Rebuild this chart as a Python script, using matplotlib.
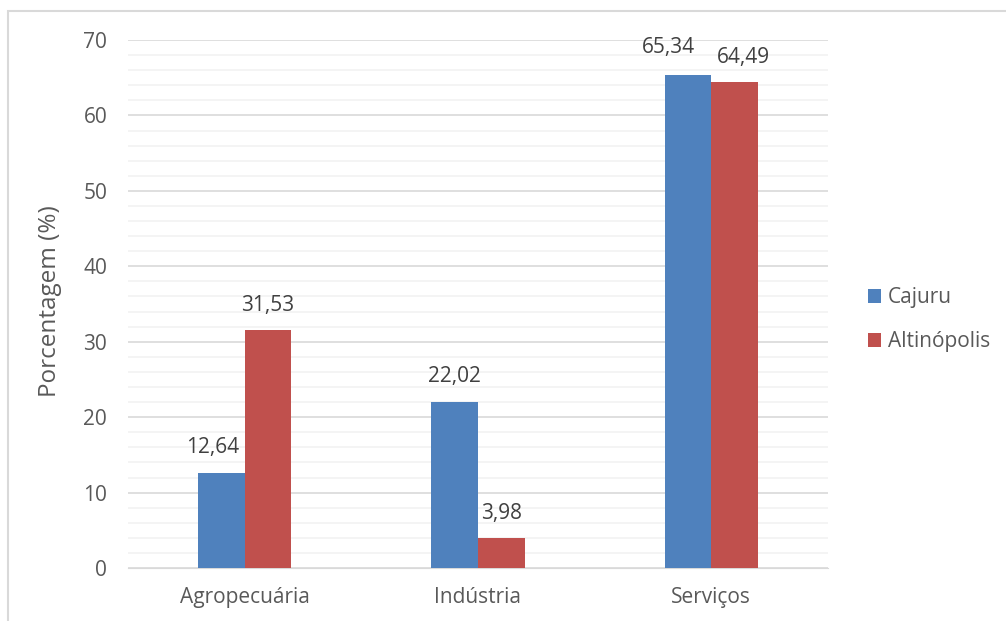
import numpy as np
import matplotlib.pyplot as plt
from matplotlib.patches import Rectangle

plt.rcParams['font.family'] = ['Open Sans', 'DejaVu Sans']

setores = ['Agropecuária', 'Indústria', 'Serviços']
cajuru = [12.64, 22.02, 65.34]
altinopolis = [31.53, 3.98, 64.49]

azul = '#4f81bd'
vermelho = '#c0504d'
texto = '#595959'

fig = plt.figure(figsize=(10.06, 6.21), dpi=100)
ax = fig.add_axes([0.1272, 0.0853, 0.6958, 0.8503])

# moldura do gráfico
fig.patches.append(Rectangle((8 / 1006, -0.1), 1.1, 1 - 11 / 621 + 0.1,
                             transform=fig.transFigure, fill=False,
                             edgecolor='#d9d9d9', linewidth=1.5))

x = np.arange(len(setores))
w = 0.2
b1 = ax.bar(x - w / 2, cajuru, w, color=azul, label='Cajuru', zorder=3)
b2 = ax.bar(x + w / 2, altinopolis, w, color=vermelho, label='Altinópolis', zorder=3)

# deslocamento horizontal (pt) dos rótulos para não se sobreporem
desloc = [(-6, 0), (0, 0), (-14, 6)]

for k, (barras, vals) in enumerate(((b1, cajuru), (b2, altinopolis))):
    for i, (r, v) in enumerate(zip(barras, vals)):
        dy = 20 if k == 0 and i == 2 else 18
        if k == 1 and i == 2:
            dy = 17
        ax.annotate(f'{v:.2f}'.replace('.', ','),
                    (r.get_x() + r.get_width() / 2, v),
                    xytext=(desloc[i][k], dy), textcoords='offset points',
                    ha='center', va='center', fontsize=15, color='#404040')

ax.set_xlim(-0.5, 2.5)
ax.set_ylim(0, 70)
ax.set_yticks(range(0, 71, 10))
ax.set_yticks(range(0, 71, 2), minor=True)
ax.grid(axis='y', which='major', color='#d9d9d9', linewidth=1.2, zorder=0)
ax.grid(axis='y', which='minor', color='#f2f2f2', linewidth=1.2, zorder=0)
ax.set_xticks(x)
ax.set_xticklabels(setores)
ax.tick_params(axis='both', which='both', length=0, labelsize=15, colors=texto)
ax.tick_params(axis='y', pad=15)
ax.tick_params(axis='x', pad=14)
for s in ('top', 'right', 'left'):
    ax.spines[s].set_visible(False)
ax.spines['bottom'].set_color('#d9d9d9')
ax.set_ylabel('Porcentagem (%)', fontsize=17.5, color=texto)
ax.yaxis.set_label_coords(-0.094, 0.506)

ax.legend(loc='center left', bbox_to_anchor=(1.045, 0.47), frameon=False,
          fontsize=15, labelcolor=texto, handlelength=0.65, handleheight=0.65,
          handletextpad=0.3, labelspacing=1.1, borderaxespad=0)

fig.savefig('out.png', dpi=100)
